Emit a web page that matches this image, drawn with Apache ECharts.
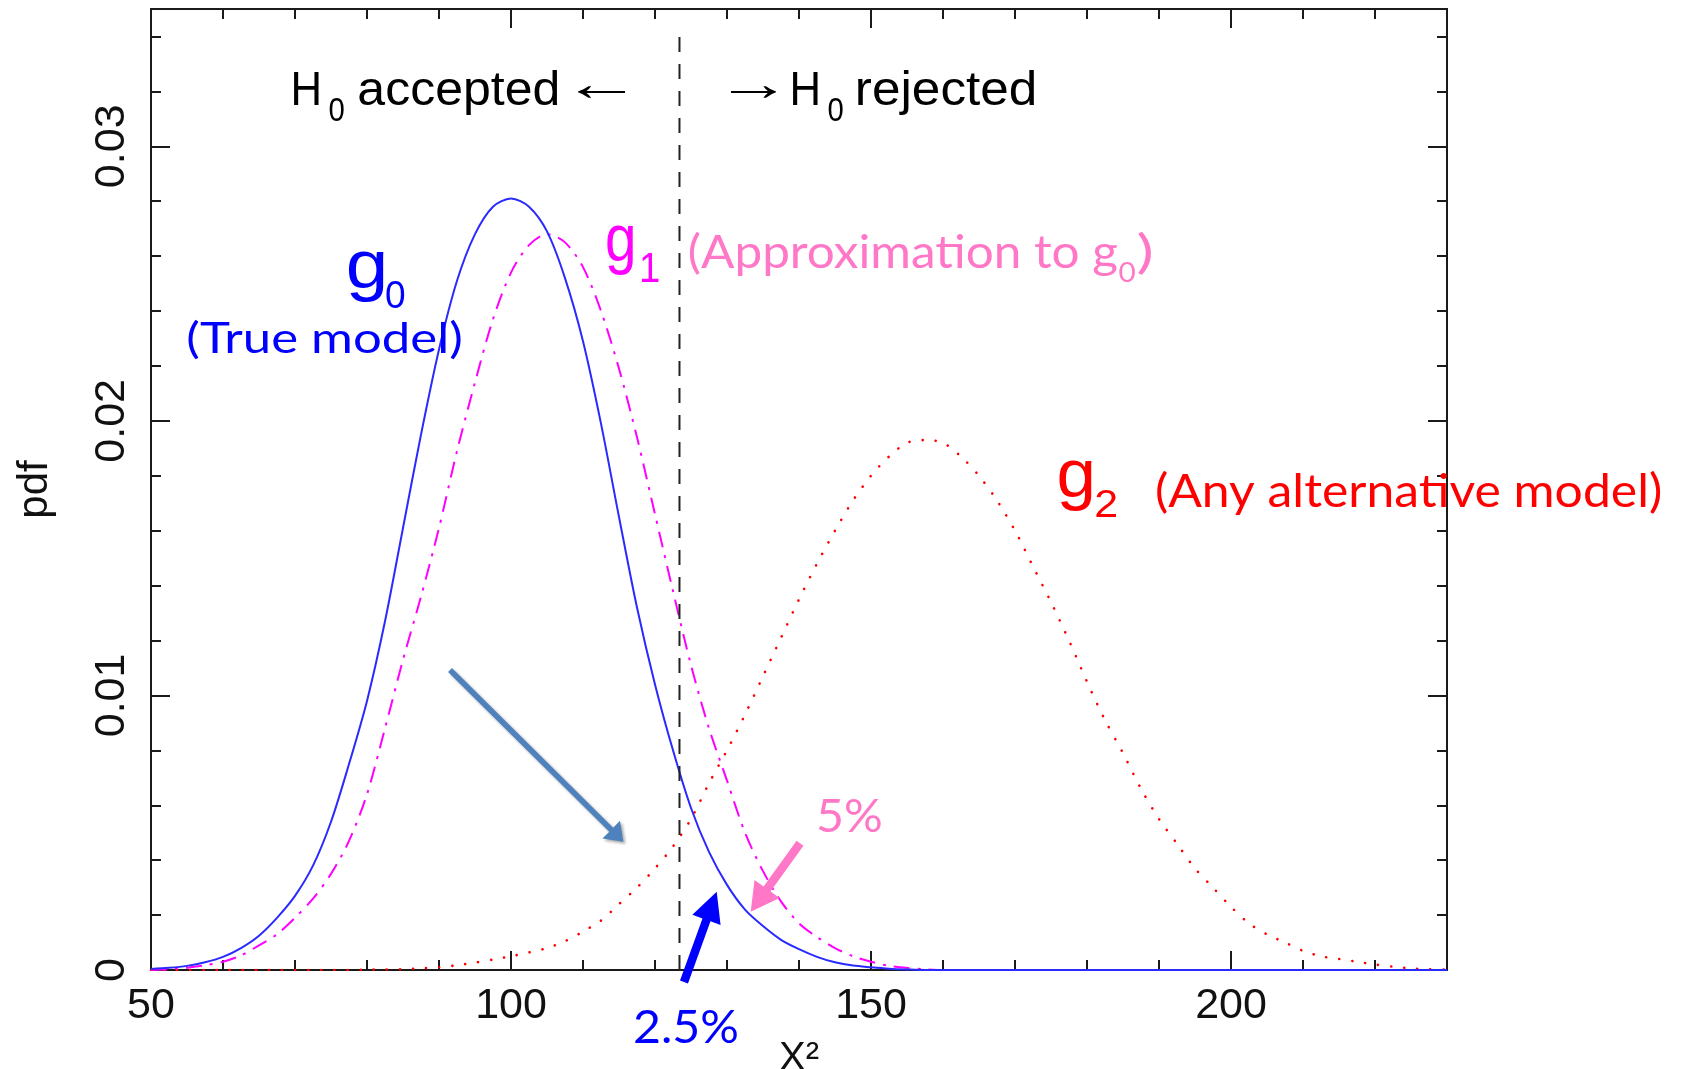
<!DOCTYPE html>
<html><head><meta charset="utf-8">
<script src="https://cdn.jsdelivr.net/npm/echarts@6/dist/echarts.min.js"></script>
<style>html,body{margin:0;padding:0;background:#fff}#c{width:1682px;height:1069px}</style>
</head><body><div id="c"></div>
<script>
// ---------------- data ----------------
const xs = [50, 52.5, 55, 57.5, 60, 62.5, 65, 67.5, 70, 72.5, 75, 77.5, 80, 82.5, 85, 87.5, 90, 92.5, 95, 97.5,
  100, 102.5, 105, 107.5, 110, 112.5, 115, 117.5, 120, 122.5, 125, 127.5, 130, 132.5, 135, 137.5, 140, 142.5, 145, 147.5,
  150, 152.5, 155, 157.5, 160, 162.5, 165, 167.5, 170, 172.5, 175, 177.5, 180, 182.5, 185, 187.5, 190, 192.5, 195, 197.5,
  200, 202.5, 205, 207.5, 210, 212.5, 215, 217.5, 220, 222.5, 225, 227.5, 230];

// g0 : true model (blue, solid)
const g0 = [0.00004, 0.00008, 0.00015, 0.00028, 0.00048, 0.0008, 0.00125, 0.0019, 0.0027, 0.0038,
  0.0054, 0.0075, 0.0098, 0.0127, 0.0161, 0.0195, 0.0226, 0.0251, 0.0268, 0.0278,
  0.0281, 0.0278, 0.0269, 0.0252, 0.0229, 0.0199, 0.0165, 0.0132, 0.0104, 0.0080,
  0.0059, 0.0043, 0.0031, 0.0022, 0.0016, 0.0011, 0.00076, 0.00048, 0.00028, 0.00016,
  0.0001, 0.00005, 0.00002, 0, 0, 0, 0, 0, 0, 0,
  0, 0, 0, 0, 0, 0, 0, 0, 0, 0,
  0, 0, 0, 0, 0, 0, 0, 0, 0, 0, 0, 0, 0];

// g1 : approximation to g0 (magenta, dash-dot)
const g1 = [0, 0.00003, 0.00008, 0.00017, 0.0003, 0.00053, 0.0009, 0.0013, 0.0019, 0.0026,
  0.0035, 0.0047, 0.0064, 0.0088, 0.0113, 0.0136, 0.0161, 0.0189, 0.0214, 0.0237,
  0.0254, 0.0264, 0.0268, 0.0265, 0.0256, 0.0240, 0.0219, 0.0194, 0.0166, 0.0138,
  0.0111, 0.0088, 0.0069, 0.0050, 0.0036, 0.0025, 0.0017, 0.0012, 0.0008, 0.0005,
  0.0003, 0.00015, 0.00008, 0.00003, 0, 0, 0, 0, 0, 0,
  0, 0, 0, 0, 0, 0, 0, 0, 0, 0,
  0, 0, 0, 0, 0, 0, 0, 0, 0, 0, 0, 0, 0];

// g2 : any alternative model (red, dotted)
const g2 = [0, 0, 0, 0, 0, 0, 0, 0, 0, 0,
  0, 0, 0.00001, 0.00002, 0.00003, 0.00006, 0.0001, 0.00017, 0.00027, 0.00038,
  0.0005, 0.00064, 0.0008, 0.00105, 0.0014, 0.0018, 0.0024, 0.0030, 0.0037, 0.0045,
  0.0055, 0.0068, 0.0080, 0.0093, 0.0107, 0.0121, 0.0135, 0.0148, 0.0160, 0.0171,
  0.0180, 0.0187, 0.0192, 0.0193, 0.0192, 0.0187, 0.0180, 0.0171, 0.0160, 0.0147,
  0.0134, 0.0120, 0.0105, 0.0091, 0.0079, 0.0066, 0.0055, 0.0046, 0.0037, 0.0030,
  0.0023, 0.0017, 0.0013, 0.0010, 0.0007, 0.0005, 0.0004, 0.0003, 0.0002, 0.00012, 0.00006, 0.00003, 0.00001];

const xTickLabels = [50, 100, 150, 200];
const yTickLabels = [0, 0.01, 0.02, 0.03];
const criticalX = 123.4;       // rejection threshold (dashed line)
const dashTop = 0.034;

// ---------------- helpers ----------------
const LS = '"Liberation Sans", Arial, sans-serif';
const CAL = 'Lato, "Open Sans", sans-serif';
const AX = '#1a1a1a';
const mctx = document.createElement('canvas').getContext('2d');

function label(text, family, size, color, gLeft, gRight, opts) {
  const font = 'normal ' + size + 'px ' + family;
  mctx.font = font;
  mctx.textBaseline = 'alphabetic';
  const a = mctx.measureText(text);
  mctx.textBaseline = 'middle';
  const m = mctx.measureText(text);
  const w = a.actualBoundingBoxLeft + a.actualBoundingBoxRight;
  const s = (gRight - gLeft) / w;
  let y;
  if (opts.baseline !== undefined) {
    y = opts.baseline - (a.actualBoundingBoxAscent - m.actualBoundingBoxAscent);
  } else {
    y = opts.cy - (m.actualBoundingBoxDescent - m.actualBoundingBoxAscent) / 2;
  }
  return {
    type: 'text', x: gLeft + a.actualBoundingBoxLeft * s, y: y, scaleX: s, z: 100,
    style: { text: text, fill: color, font: font, align: 'left', verticalAlign: 'middle' }
  };
}

function arrow(tail, tip, shaftW, headL, headW, color, shadow) {
  const dx = tip[0] - tail[0], dy = tip[1] - tail[1];
  const L = Math.hypot(dx, dy);
  const ux = dx / L, uy = dy / L, px = -uy, py = ux;
  const bx = tip[0] - ux * headL, by = tip[1] - uy * headL;
  const pts = [
    [tail[0] + px * shaftW / 2, tail[1] + py * shaftW / 2],
    [bx + px * shaftW / 2, by + py * shaftW / 2],
    [bx + px * headW / 2, by + py * headW / 2],
    tip,
    [bx - px * headW / 2, by - py * headW / 2],
    [bx - px * shaftW / 2, by - py * shaftW / 2],
    [tail[0] - px * shaftW / 2, tail[1] - py * shaftW / 2]
  ];
  const style = { fill: color };
  if (shadow) {
    style.shadowColor = 'rgba(0,0,0,0.35)'; style.shadowBlur = 3;
    style.shadowOffsetX = 2; style.shadowOffsetY = 2;
  }
  return { type: 'polygon', z: 100, shape: { points: pts }, style: style };
}

function xAx(pos, major) {
  const ax = {
    type: 'value', position: pos, min: 50, max: 230, interval: major ? 50 : 10,
    axisLine: { show: true, onZero: false, lineStyle: { color: AX, width: 2 } },
    axisTick: { show: true, inside: true, length: major ? 19 : 10, lineStyle: { color: AX, width: 2 } },
    axisLabel: { show: false },
    splitLine: { show: false }
  };
  if (major) {
    ax.axisTick.customValues = xTickLabels;
    if (pos === 'bottom') {
      ax.axisLabel = { show: true, customValues: xTickLabels, fontFamily: LS, fontSize: 43, color: '#111', margin: 15 };
      ax.name = 'X\u00B2';
      ax.nameLocation = 'middle';
      ax.nameGap = 69;
      ax.nameTextStyle = { fontFamily: LS, fontSize: 40, color: '#111' };
    }
  }
  return ax;
}
function yAx(pos, major) {
  const ax = {
    type: 'value', position: pos, min: 0, max: 0.035, interval: major ? 0.01 : 0.002,
    axisLine: { show: true, onZero: false, lineStyle: { color: AX, width: 2 } },
    axisTick: { show: true, inside: true, length: major ? 19 : 10, lineStyle: { color: AX, width: 2 } },
    axisLabel: { show: false },
    splitLine: { show: false }
  };
  if (major) {
    ax.axisTick.customValues = yTickLabels;
    if (pos === 'left') {
      ax.axisLabel = { show: true, customValues: yTickLabels, rotate: 90, fontFamily: LS, fontSize: 43, color: '#111', margin: 17 };
      ax.name = 'pdf';
      ax.nameLocation = 'middle';
      ax.nameRotate = 90;
      ax.nameGap = 95;
      ax.nameTextStyle = { fontFamily: LS, fontSize: 42, color: '#111' };
    }
  }
  return ax;
}

const pair = (arr) => xs.map((x, i) => [x, arr[i]]);

const BLUE = '#0000ff', MAG = '#ff00ff', PINK = '#ff78c8', RED = '#ff0000';

const graphics = [
  label('H', LS, 49, '#000', 294, 319, { baseline: 105 }),
  label('0', LS, 33, '#000', 329.5, 344.6, { baseline: 120.7 }),
  label('accepted', LS, 49, '#000', 359.4, 558, { baseline: 105 }),
  label('\u2190', LS, 49, '#000', 578, 625, { cy: 92 }),
  label('\u2192', LS, 49, '#000', 731, 776, { cy: 92 }),
  label('H', LS, 49, '#000', 793, 818, { baseline: 105 }),
  label('0', LS, 33, '#000', 828.5, 843.6, { baseline: 120.7 }),
  label('rejected', LS, 49, '#000', 858, 1035, { baseline: 105 }),

  label('g', LS, 68, BLUE, 348, 384, { baseline: 288 }),
  label('0', LS, 39, BLUE, 386, 405, { baseline: 308 }),
  label('(True model)', CAL, 43, BLUE, 187.5, 461, { baseline: 353 }),

  label('g', LS, 66, MAG, 606.7, 633.3, { baseline: 261 }),
  label('1', LS, 42, MAG, 641.7, 659, { baseline: 281.7 }),
  label('(Approximation to g', CAL, 46, PINK, 690, 1117, { baseline: 268 }),
  label('0', CAL, 27, PINK, 1118.5, 1135, { baseline: 282 }),
  label(')', CAL, 46, PINK, 1138, 1152, { baseline: 268 }),

  label('g', LS, 68, RED, 1058.6, 1092, { baseline: 497 }),
  label('2', LS, 38, RED, 1095.5, 1117, { baseline: 517.3 }),
  label('(Any alternative model)', CAL, 47, RED, 1157, 1660.6, { baseline: 506.7 }),

  label('5%', CAL, 47, PINK, 818, 881, { baseline: 831.7 }),
  label('2.5%', CAL, 46, BLUE, 635, 737, { baseline: 1043 }),

  arrow([450, 670], [623.3, 841.7], 5.5, 17, 25, '#4f81bd', true),
  arrow([684, 982], [716.7, 891.7], 8.5, 30, 30, BLUE, false),
  arrow([800, 843.3], [750.7, 911.7], 8.5, 28, 31, PINK, false)
];

const chart = echarts.init(document.getElementById('c'), null, { renderer: 'canvas' });
chart.setOption({
  animation: false,
  backgroundColor: '#ffffff',
  grid: { left: 151, right: 235, top: 9, bottom: 99, containLabel: false, outerBoundsMode: 'none' },
  xAxis: [xAx('bottom', false), xAx('bottom', true), xAx('top', false), xAx('top', true)],
  yAxis: [yAx('left', false), yAx('left', true), yAx('right', false), yAx('right', true)],
  series: [
    { name: 'g2', type: 'line', xAxisIndex: 0, yAxisIndex: 0, data: pair(g2), smooth: 0.3, showSymbol: false, symbol: 'none',
      lineStyle: { color: RED, width: 2.6, type: [0.1, 13], cap: 'round' } },
    { name: 'g1', type: 'line', xAxisIndex: 0, yAxisIndex: 0, data: pair(g1), smooth: 0.3, showSymbol: false, symbol: 'none',
      lineStyle: { color: MAG, width: 2, type: [16, 8, 3, 8] } },
    { name: 'g0', type: 'line', xAxisIndex: 0, yAxisIndex: 0, data: pair(g0), smooth: 0.3, showSymbol: false, symbol: 'none',
      lineStyle: { color: '#2a2aff', width: 2 } },
    { name: 'critical', type: 'line', xAxisIndex: 0, yAxisIndex: 0, data: [[criticalX, 0], [criticalX, dashTop]], showSymbol: false, symbol: 'none',
      lineStyle: { color: '#222', width: 2, type: [15, 12] } }
  ],
  graphic: graphics
});
</script>
</body></html>
